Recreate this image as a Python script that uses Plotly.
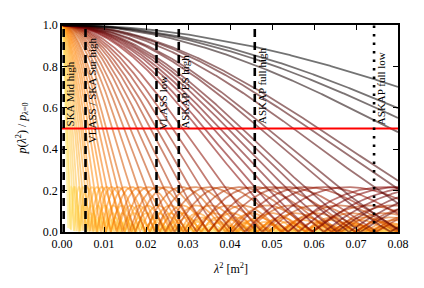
import numpy as np
import plotly.graph_objects as go

# Faraday-depth widths (rad/m^2) of the depolarisation curves
phi_widths = [1050, 800, 729, 557, 451, 379, 316, 271, 237, 211, 190, 169, 150,
              135, 121, 109, 98, 90, 79, 71, 64, 58.5, 53, 49, 45, 42, 38.7, 36,
              33, 29.2, 27.9, 26.3, 25.2, 24.0, 23.0, 22.1, 20.1, 19.4, 17.2,
              16.1, 15.5, 12.1, 11.1, 10.4, 8.8]

# survey lambda^2 limits (m^2)
survey_names = ["SKA Mid high", "VLASS / SKA Sur high", "VLASS low",
                "ASKAP ES high", "ASKAP full high", "ASKAP full low"]
survey_l2 = [0.0004, 0.0056, 0.0225, 0.0278, 0.0459, 0.0743]
survey_dash = ["dash", "dash", "dash", "dash", "dash", "dot"]
survey_label_y = [0.5, 0.41, 0.5, 0.5, 0.5, 0.5]

threshold = 0.5
x_ticks = [0.00, 0.01, 0.02, 0.03, 0.04, 0.05, 0.06, 0.07, 0.08]
y_ticks = [0.0, 0.2, 0.4, 0.6, 0.8, 1.0]

lam2 = np.linspace(0.0, 0.08, 1200)


def afmhot(t, alpha):
    r = min(1.0, max(0.0, 2 * t))
    g = min(1.0, max(0.0, 2 * t - 0.5))
    b = min(1.0, max(0.0, 2 * t - 1))
    return f"rgba({int(r*255)},{int(g*255)},{int(b*255)},{alpha})"


fig = go.Figure()
order = sorted(phi_widths)
n_gray = sum(1 for p in order if p < 14)
n_col = len(order) - n_gray
ts = {}
for i, p in enumerate(order):
    if i < n_gray:
        ts[p] = 0.015 * i
    else:
        f = (i - n_gray) / (n_col - 1)
        ts[p] = 0.14 + 0.57 * f ** 1.2

for p in sorted(phi_widths, reverse=True):
    x = 2 * p * lam2
    y = np.abs(np.sinc(x / np.pi))
    fig.add_trace(go.Scatter(x=lam2, y=y, mode="lines",
                             line=dict(color=afmhot(ts[p], 0.55), width=1.8),
                             hoverinfo="skip", showlegend=False))

fig.add_trace(go.Scatter(x=[0, 0.08], y=[threshold, threshold], mode="lines",
                         line=dict(color="#ff0000", width=1.8), showlegend=False))

for name, v, d, ly in zip(survey_names, survey_l2, survey_dash, survey_label_y):
    dash = "8px,5px" if d == "dash" else "2.5px,6px"
    fig.add_trace(go.Scatter(x=[v, v], y=[0, 1], mode="lines",
                             line=dict(color="black", width=2.6, dash=dash),
                             showlegend=False))
    half_len = 5.7 * len(name) / 2
    fig.add_annotation(x=v, y=ly, xref="x", yref="y", text=name, textangle=-90,
                       showarrow=False, xanchor="center", yanchor="middle",
                       xshift=6.5, yshift=half_len,
                       font=dict(family="Liberation Serif", size=11, color="black"))

fig.add_annotation(x=0, y=0.5, xref="paper", yref="paper", xshift=-40,
                   text="<i>p</i>(<i>λ</i><sup>2</sup>) / <i>p</i><sub><i>λ</i>=0</sub>",
                   textangle=-90, showarrow=False, xanchor="center", yanchor="middle",
                   font=dict(family="Liberation Serif", size=12, color="black"))
fig.add_annotation(x=0.5, y=0, xref="paper", yref="paper", yshift=-36,
                   text="<i>λ</i><sup>2</sup> [m<sup>2</sup>]",
                   showarrow=False, xanchor="center", yanchor="middle",
                   font=dict(family="Liberation Serif", size=12, color="black"))

axis_common = dict(showgrid=False, zeroline=False, showline=True, linecolor="black",
                   linewidth=1.5, mirror="ticks", ticks="inside", ticklen=5,
                   tickcolor="black", tickwidth=1,
                   tickfont=dict(family="Liberation Serif", size=12, color="black"))
fig.update_xaxes(range=[0, 0.08], tickvals=x_ticks,
                 ticktext=[f"{v:.2f}" for v in x_ticks], **axis_common)
fig.update_yaxes(range=[0, 1], tickvals=y_ticks,
                 ticktext=[f"{v:.1f}" for v in y_ticks], **axis_common)

fig.update_layout(width=416, height=280, margin=dict(l=54, r=26, t=10, b=56),
                  plot_bgcolor="white", paper_bgcolor="white")
fig.write_html("out.html")
